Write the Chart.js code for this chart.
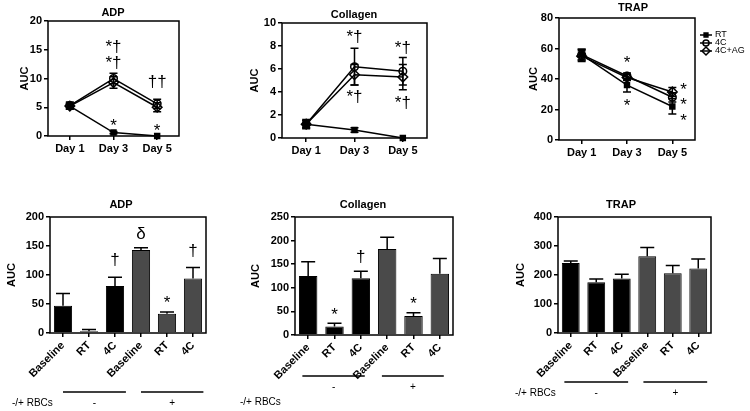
<!DOCTYPE html>
<html>
<head>
<meta charset="utf-8">
<script src="https://cdn.jsdelivr.net/npm/chart.js@4.4.1/dist/chart.umd.min.js"></script>
<style>
  html, body { margin: 0; padding: 0; background: #fff; }
  #wrap { position: relative; width: 750px; height: 411px; }
  #wrap canvas { position: absolute; left: 0; top: 0; }
</style>
</head>
<body>
<div id="wrap">
  <canvas id="c1" width="750" height="411"></canvas>
  <canvas id="c2" width="750" height="411"></canvas>
  <canvas id="c3" width="750" height="411"></canvas>
  <canvas id="c4" width="750" height="411"></canvas>
  <canvas id="c5" width="750" height="411"></canvas>
  <canvas id="c6" width="750" height="411"></canvas>
</div>
<script>
// time course (top row)
var days = ['Day 1', 'Day 3', 'Day 5'];
var groups = ['RT', '4C', '4C+AG'];

var adpRT = [5.2, 0.6, 0.0],    adpRTerr = [0.5, 0.2, 0];
var adp4C = [5.3, 10.0, 5.6],   adp4Cerr = [0.6, 0.9, 0.8];
var adpAG = [5.2, 9.3, 5.0],    adpAGerr = [0.5, 1.0, 0.8];

var colRT = [1.2, 0.7, 0.0],    colRTerr = [0.3, 0.2, 0];
var col4C = [1.2, 6.2, 5.8],    col4Cerr = [0.3, 1.6, 1.2];
var colAG = [1.2, 5.5, 5.3],    colAGerr = [0.4, 0.9, 1.1];

var trapRT = [56, 36, 22],      trapRTerr = [3.5, 4.5, 5];
var trap4C = [56, 42, 28],      trap4Cerr = [3.5, 2, 3];
var trapAG = [55, 41, 31.5],    trapAGerr = [3.5, 2, 3];

// -/+ RBCs (bottom row)
var barLabels = ['Baseline', 'RT', '4C', 'Baseline', 'RT', '4C'];
var adpBars = [47, 3, 81, 143, 33, 94];
var adpBarsErr = [21, 3, 15, 4, 3, 19];
var colBars = [125, 18, 120, 182, 40, 130];
var colBarsErr = [30, 7, 15, 25, 7, 32];
var trapBars = [241, 175, 188, 265, 206, 222];
var trapBarsErr = [7, 11, 15, 30, 27, 33];

// significance marks: [category index, value, symbol]
var adpLineMarks = [[1, 15.5, '*†'], [1, 12.7, '*†'], [2, 9.4, '††'], [1, 2.4, '*'], [2, 1.6, '*']];
var colLineMarks = [[1, 8.8, '*†'], [1, 3.6, '*†'], [2, 7.9, '*†'], [2, 3.1, '*†']];
var trapLineMarks = [[1, 53, '*'], [1, 25, '*'], [2.25, 35.4, '*'], [2.25, 25.6, '*'], [2.25, 15, '*']];
var adpBarMarks = [[2, 126, '†'], [3, 172, 'δ'], [4, 58, '*'], [5, 143, '†']];
var colBarMarks = [[1, 50, '*'], [2, 167, '†'], [4, 75, '*']];
var trapBarMarks = [];

var FONT = "'Liberation Sans', Arial, sans-serif";
Chart.defaults.font.family = FONT;
Chart.defaults.color = '#000';

var decor = {
  id: 'decor',
  beforeDatasetsDraw: function(chart, args, o) {
    var ctx = chart.ctx, ys = chart.scales.y;
    ctx.save();
    ctx.strokeStyle = '#000';
    ctx.lineWidth = 1.5;
    chart.data.datasets.forEach(function(ds, di) {
      if (!ds.err) return;
      chart.getDatasetMeta(di).data.forEach(function(el, i) {
        var e = ds.err[i];
        if (!e) return;
        var yt = ys.getPixelForValue(ds.data[i] + e);
        var yb = o.twoSided ? ys.getPixelForValue(ds.data[i] - e) : el.y;
        ctx.beginPath();
        ctx.moveTo(el.x, yt); ctx.lineTo(el.x, yb);
        ctx.moveTo(el.x - o.cap, yt); ctx.lineTo(el.x + o.cap, yt);
        if (o.twoSided) { ctx.moveTo(el.x - o.cap, yb); ctx.lineTo(el.x + o.cap, yb); }
        ctx.stroke();
      });
    });
    ctx.restore();
  },
  afterDraw: function(chart, args, o) {
    var ctx = chart.ctx, a = chart.chartArea, xs = chart.scales.x, ys = chart.scales.y;
    ctx.save();
    ctx.strokeStyle = '#000';
    ctx.fillStyle = '#000';
    ctx.lineWidth = 1.5;
    ctx.strokeRect(a.left, a.top, a.right - a.left, a.bottom - a.top);

    // title
    ctx.font = 'bold 11px ' + FONT;
    ctx.textAlign = 'center';
    ctx.textBaseline = 'middle';
    ctx.fillText(o.title, o.titleX, o.titleY);

    // y axis title
    ctx.save();
    ctx.translate(o.aucX, (a.top + a.bottom) / 2);
    ctx.rotate(-Math.PI / 2);
    ctx.fillText('AUC', 0, 0);
    ctx.restore();

    // significance symbols
    ctx.font = '17px ' + FONT;
    ctx.textBaseline = 'alphabetic';
    (o.marks || []).forEach(function(m) {
      var m2 = ctx.measureText(m[2]);
      var y = ys.getPixelForValue(m[1]) + (m2.actualBoundingBoxAscent - m2.actualBoundingBoxDescent) / 2;
      ctx.fillText(m[2], xs.getPixelForValue(m[0]), y);
    });

    // legend
    if (o.legend) {
      ctx.font = '9px ' + FONT;
      ctx.textAlign = 'left';
      ctx.textBaseline = 'middle';
      chart.data.datasets.forEach(function(ds, i) {
        var y = o.legend.y + i * o.legend.gap, x = o.legend.x;
        ctx.lineWidth = 1.5;
        ctx.strokeStyle = '#000';
        ctx.beginPath(); ctx.moveTo(x - 6, y); ctx.lineTo(x + 6, y); ctx.stroke();
        ctx.fillStyle = ds.pointBackgroundColor;
        Chart.helpers.drawPoint(ctx, {
          pointStyle: ds.pointStyle, radius: ds.pointRadius - 0.8, rotation: 0, borderWidth: 1.2
        }, x, y);
        ctx.fillStyle = '#000';
        ctx.fillText(ds.label, x + 9, y);
      });
    }

    // -/+ RBCs grouping
    if (o.groups) {
      ctx.font = '10px ' + FONT;
      ctx.lineWidth = 1.5;
      ctx.textAlign = 'center';
      ctx.textBaseline = 'middle';
      o.groups.forEach(function(g) {
        var x0 = xs.getPixelForValue(g[0]), x1 = xs.getPixelForValue(g[1]);
        ctx.beginPath(); ctx.moveTo(x0, o.lineY); ctx.lineTo(x1, o.lineY); ctx.stroke();
        ctx.fillText(g[2], (x0 + x1) / 2, o.signY);
      });
      ctx.textAlign = 'left';
      ctx.fillText('-/+ RBCs', o.rbcX, o.rbcY);
    }
    ctx.restore();
  }
};

function lineSet(label, data, err, style, radius, fill) {
  return {
    label: label, data: data, err: err,
    borderColor: '#000', borderWidth: 1.5, tension: 0, clip: false,
    pointStyle: style, pointRadius: radius, pointBorderWidth: 1.5,
    pointBorderColor: '#000', pointBackgroundColor: fill
  };
}

function makePanel(id, type, labels, datasets, area, yMax, yStep, rotation, deco) {
  var yw = 40, xh = rotation ? 48 : 30;
  return new Chart(document.getElementById(id), {
    type: type,
    data: { labels: labels, datasets: datasets },
    options: {
      responsive: false,
      animation: false,
      events: [],
      layout: { padding: { left: area[0] - yw, top: area[1], right: 750 - area[2], bottom: 411 - area[3] - xh } },
      plugins: { legend: { display: false }, title: { display: false }, tooltip: { enabled: false }, decor: deco },
      scales: {
        x: {
          offset: true,
          border: { display: false },
          grid: { offset: false, drawOnChartArea: false, tickLength: 4, color: '#000', lineWidth: 1.5 },
          ticks: { font: { size: 11, weight: 'bold' }, color: '#000', autoSkip: false,
                   minRotation: rotation, maxRotation: rotation, padding: 2 },
          afterFit: function(s) { s.height = xh; }
        },
        y: {
          min: 0, max: yMax,
          border: { display: false },
          grid: { drawOnChartArea: false, tickLength: 4, color: '#000', lineWidth: 1.5 },
          ticks: { stepSize: yStep, font: { size: 11, weight: 'bold' }, color: '#000', padding: 2 },
          afterFit: function(s) { s.width = yw; }
        }
      }
    },
    plugins: [decor]
  });
}

function timeSets(rt, rtErr, c4, c4Err, ag, agErr) {
  return [
    lineSet(groups[0], rt, rtErr, 'rect', 3.5, '#000'),
    lineSet(groups[1], c4, c4Err, 'circle', 3.8, 'rgba(0,0,0,0)'),
    lineSet(groups[2], ag, agErr, 'rectRot', 4.8, 'rgba(0,0,0,0)')
  ];
}

function barSet(data, err) {
  return [{
    data: data, err: err,
    backgroundColor: ['#000', '#000', '#000', '#4a4a4a', '#4a4a4a', '#4a4a4a'],
    borderColor: '#000', borderWidth: 1,
    barPercentage: 0.7, categoryPercentage: 1
  }];
}

makePanel('c1', 'line', days, timeSets(adpRT, adpRTerr, adp4C, adp4Cerr, adpAG, adpAGerr),
  [48, 21, 179, 136], 20, 5, 0,
  { title: 'ADP', titleX: 113, titleY: 13, aucX: 25, twoSided: true, cap: 4, marks: adpLineMarks });

makePanel('c2', 'line', days, timeSets(colRT, colRTerr, col4C, col4Cerr, colAG, colAGerr),
  [282, 23, 427, 138], 10, 2, 0,
  { title: 'Collagen', titleX: 354, titleY: 15, aucX: 255, twoSided: true, cap: 4, marks: colLineMarks });

makePanel('c3', 'line', days, timeSets(trapRT, trapRTerr, trap4C, trap4Cerr, trapAG, trapAGerr),
  [559, 18, 695, 140], 80, 20, 0,
  { title: 'TRAP', titleX: 633, titleY: 8, aucX: 534, twoSided: true, cap: 4, marks: trapLineMarks,
    legend: { x: 706, y: 35, gap: 8 } });

makePanel('c4', 'bar', barLabels, barSet(adpBars, adpBarsErr),
  [50, 217, 206, 333], 200, 50, 45,
  { title: 'ADP', titleX: 121, titleY: 205, aucX: 12, twoSided: false, cap: 7, marks: adpBarMarks,
    groups: [[0, 2.42, '-'], [3.0, 5.4, '+']], lineY: 392, signY: 403, rbcX: 12, rbcY: 403 });

makePanel('c5', 'bar', barLabels, barSet(colBars, colBarsErr),
  [295, 217, 453, 335], 250, 50, 45,
  { title: 'Collagen', titleX: 363, titleY: 205, aucX: 256, twoSided: false, cap: 7, marks: colBarMarks,
    groups: [[-0.22, 2.15, '-'], [2.8, 5.15, '+']], lineY: 376, signY: 387, rbcX: 240, rbcY: 402 });

makePanel('c6', 'bar', barLabels, barSet(trapBars, trapBarsErr),
  [558, 217, 711, 333], 400, 100, 45,
  { title: 'TRAP', titleX: 621, titleY: 205, aucX: 521, twoSided: false, cap: 7, marks: trapBarMarks,
    groups: [[-0.25, 2.25, '-'], [2.85, 5.35, '+']], lineY: 382, signY: 393, rbcX: 515, rbcY: 393 });
</script>
</body>
</html>
